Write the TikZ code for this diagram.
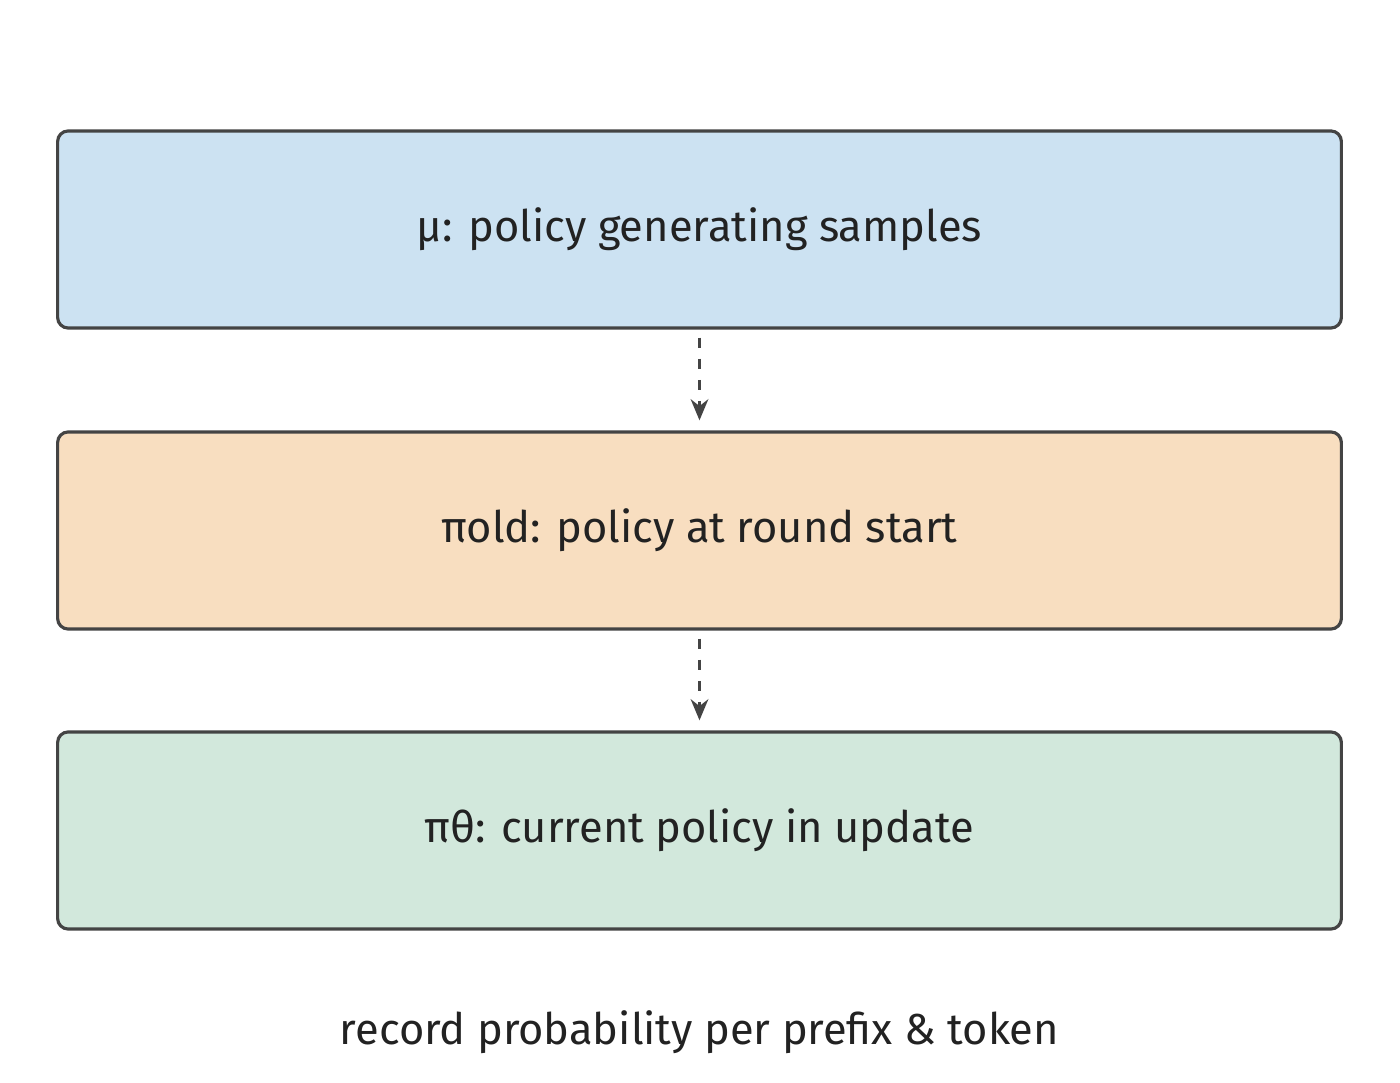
\documentclass[tikz,border=0pt]{standalone}
\usepackage{fontspec}
\setmainfont{Fira Sans}
\usetikzlibrary{arrows.meta}
\definecolor{bblue}{HTML}{CCE2F2}
\definecolor{borange}{HTML}{F8DEC0}
\definecolor{bgreen}{HTML}{D2E8DC}
\definecolor{edge}{HTML}{444444}
\definecolor{txt}{HTML}{222222}
\begin{document}
\begin{tikzpicture}[x=0.01cm,y=-0.01cm,
  box/.style={draw=edge,line width=0.9pt,rounded corners=3pt,minimum width=12.83cm,minimum height=1.97cm,text=txt,font=\fontsize{12.35}{14}\selectfont},
  arr/.style={draw=edge,line width=0.9pt,dashed,-{Stealth[length=6pt,width=5pt]}}]
\useasboundingbox (0,0) rectangle (1400,1083);
\node[box,fill=bblue] (mu) at (699.5,229.5) {μ: policy generating samples};
\node[box,fill=borange] (old) at (699.5,530.5) {πold: policy at round start};
\node[box,fill=bgreen] (th) at (699.5,830.5) {πθ: current policy in update};
\node[text=txt,font=\fontsize{12.35}{14}\selectfont] (cap) at (699.5,1032) {record probability per prefix \& token};
\draw[arr] ([yshift=-0.08cm]mu.south) -- ([yshift=0.1cm]old.north);
\draw[arr] ([yshift=-0.08cm]old.south) -- ([yshift=0.1cm]th.north);
\end{tikzpicture}
\end{document}
